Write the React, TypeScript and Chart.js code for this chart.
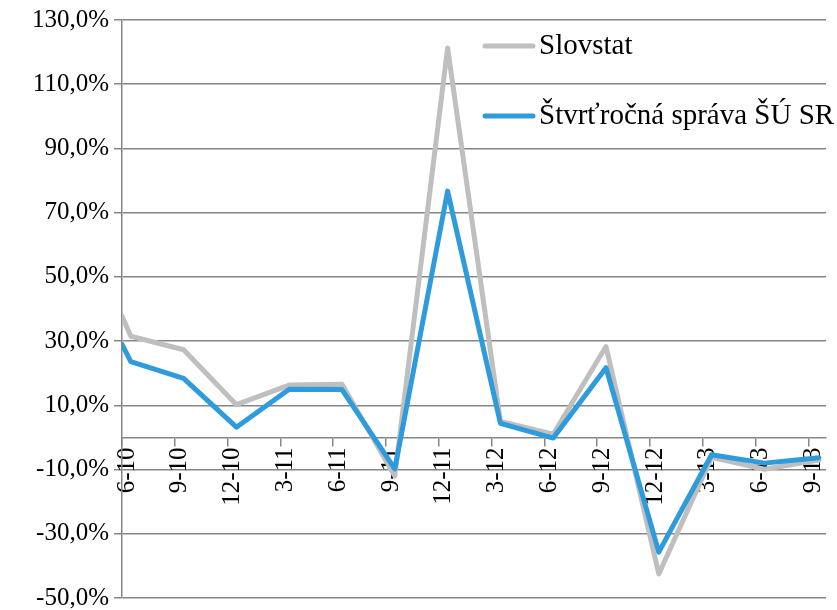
import React, { useEffect, useRef } from 'react';
import { Chart, registerables } from 'chart.js';

Chart.register(...registerables);

// ---- data ----
const tickLabels = ['6-10', '9-10', '12-10', '3-11', '6-11', '9-11', '12-11', '3-12', '6-12', '9-12', '12-12', '3-13', '6-13', '9-13'];
const tickMonths = [0, 3, 6, 9, 12, 15, 18, 21, 24, 27, 30, 33, 36, 39];
const pointMonths = [0, 0.5, 3.5, 6.5, 9.5, 12.5, 15.5, 18.5, 21.5, 24.5, 27.5, 30.5, 33.5, 36.5, 39.6];
const slovstat = [37.8, 31.5, 27.3, 10.2, 16.3, 16.6, -12.0, 121.3, 5.0, 1.0, 28.3, -42.5, -6.2, -9.9, -7.0];
const stvrtrocna = [29.0, 23.6, 18.4, 3.2, 15.0, 14.9, -9.8, 76.7, 4.4, -0.2, 21.7, -35.7, -5.4, -8.0, -6.3];
const seriesNames = ['Slovstat', 'Štvrťročná správa ŠÚ SR'];
const yTicks = [-50, -30, -10, 10, 30, 50, 70, 90, 110, 130];

const GRAY = '#BFBFBF';
const BLUE = '#2E9BDC';
const AXIS = '#868686';
const FONT = 'Liberation Serif';

const insideLegend = {
  id: 'insideLegend',
  afterDraw(chart: any) {
    const ctx = chart.ctx;
    const items = [
      { name: seriesNames[0], color: GRAY, y: 46 },
      { name: seriesNames[1], color: BLUE, y: 116 },
    ];
    ctx.save();
    for (const it of items) {
      ctx.strokeStyle = it.color;
      ctx.lineWidth = 5;
      ctx.lineCap = 'round';
      ctx.beginPath();
      ctx.moveTo(485, it.y);
      ctx.lineTo(533, it.y);
      ctx.stroke();
      ctx.fillStyle = '#000';
      ctx.font = `29px "${FONT}"`;
      ctx.textBaseline = 'middle';
      ctx.textAlign = 'left';
      ctx.fillText(it.name, 539, it.y);
    }
    ctx.restore();
  },
};

export default function App() {
  const ref = useRef<HTMLCanvasElement | null>(null);
  useEffect(() => {
    if (!ref.current) return;
    const chart = new Chart(ref.current, {
      type: 'line',
      data: {
        datasets: [
          {
            label: seriesNames[1],
            data: pointMonths.map((x, i) => ({ x, y: stvrtrocna[i] })),
            borderColor: BLUE,
            backgroundColor: BLUE,
            borderWidth: 5,
            pointRadius: 0,
            borderJoinStyle: 'round',
            borderCapStyle: 'round',
            tension: 0,
          },
          {
            label: seriesNames[0],
            data: pointMonths.map((x, i) => ({ x, y: slovstat[i] })),
            borderColor: GRAY,
            backgroundColor: GRAY,
            borderWidth: 5,
            pointRadius: 0,
            borderJoinStyle: 'round',
            borderCapStyle: 'round',
            tension: 0,
          },
        ],
      },
      options: {
        responsive: false,
        animation: false,
        layout: { padding: { top: 20, right: 11, bottom: 12, left: 0 } },
        plugins: { legend: { display: false }, tooltip: { enabled: false } },
        scales: {
          x: {
            type: 'linear',
            min: 0,
            max: 40,
            position: { y: 0 } as any,
            afterBuildTicks: (s: any) => {
              s.ticks = tickMonths.map((v) => ({ value: v }));
            },
            afterFit: (s: any) => {
              s.height = 0;
              s.paddingLeft = 0;
              s.paddingRight = 0;
            },
            ticks: {
              autoSkip: false,
              maxRotation: 90,
              minRotation: 90,
              padding: 2,
              labelOffset: 5,
              color: '#000',
              font: { family: FONT, size: 25 },
              callback: (v: any) => tickLabels[tickMonths.indexOf(Number(v))] ?? '',
            },
            grid: { drawOnChartArea: false, drawTicks: true, tickLength: 8, color: AXIS, lineWidth: 1.5 },
            border: { color: AXIS, width: 1.5 },
          },
          y: {
            min: -50,
            max: 130,
            afterBuildTicks: (s: any) => {
              s.ticks = yTicks.map((v) => ({ value: v }));
            },
            afterFit: (s: any) => {
              s.width = 122;
              s.paddingTop = 0;
              s.paddingBottom = 0;
            },
            ticks: {
              padding: 5,
              color: '#000',
              font: { family: FONT, size: 25 },
              callback: (v: any) => Number(v).toFixed(1).replace('.', ',') + '%',
            },
            grid: { color: AXIS, lineWidth: 1.5, tickLength: 8 },
            border: { color: AXIS, width: 1.5 },
          },
        },
      },
      plugins: [insideLegend],
    } as any);
    return () => chart.destroy();
  }, []);
  return (
    <div style={{ position: 'absolute', left: 0, top: 0, width: 837, height: 610, background: '#fff' }}>
      <canvas ref={ref} width={837} height={610} />
    </div>
  );
}
